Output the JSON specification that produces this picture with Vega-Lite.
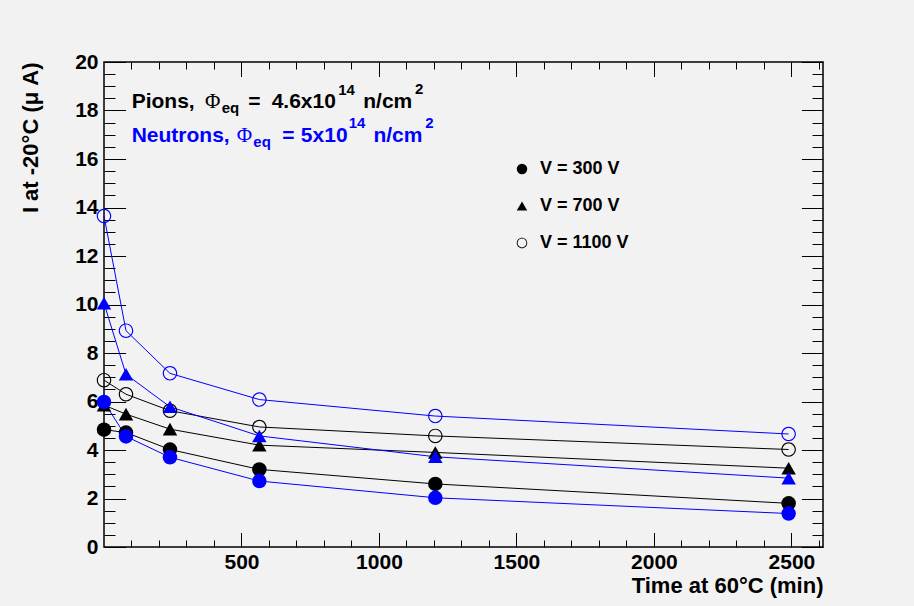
{
  "$schema": "https://vega.github.io/schema/vega-lite/v6.json",
  "width": 719,
  "height": 485,
  "autosize": "none",
  "padding": {"left": 104, "top": 62, "right": 91, "bottom": 59},
  "background": "#f2f2f2",
  "config": {
    "view": {"stroke": "black", "strokeWidth": 1.5},
    "font": "Liberation Sans",
    "axis": {"grid": false, "domain": false, "tickColor": "black", "tickWidth": 1, "labelFlush": false, "labelColor": "black", "titleColor": "black"}
  },
  "datasets": {
    "pts": [
      {"t": 0, "I": 4.84, "src": "Pions", "V": "300"},
      {"t": 80, "I": 4.72, "src": "Pions", "V": "300"},
      {"t": 240, "I": 4.02, "src": "Pions", "V": "300"},
      {"t": 565, "I": 3.2, "src": "Pions", "V": "300"},
      {"t": 1205, "I": 2.6, "src": "Pions", "V": "300"},
      {"t": 2490, "I": 1.8, "src": "Pions", "V": "300"},
      {"t": 0, "I": 5.85, "src": "Pions", "V": "700"},
      {"t": 80, "I": 5.48, "src": "Pions", "V": "700"},
      {"t": 240, "I": 4.86, "src": "Pions", "V": "700"},
      {"t": 565, "I": 4.2, "src": "Pions", "V": "700"},
      {"t": 1205, "I": 3.9, "src": "Pions", "V": "700"},
      {"t": 2490, "I": 3.25, "src": "Pions", "V": "700"},
      {"t": 0, "I": 6.88, "src": "Pions", "V": "1100"},
      {"t": 80, "I": 6.3, "src": "Pions", "V": "1100"},
      {"t": 240, "I": 5.62, "src": "Pions", "V": "1100"},
      {"t": 565, "I": 4.95, "src": "Pions", "V": "1100"},
      {"t": 1205, "I": 4.58, "src": "Pions", "V": "1100"},
      {"t": 2490, "I": 4.02, "src": "Pions", "V": "1100"},
      {"t": 0, "I": 5.98, "src": "Neutrons", "V": "300"},
      {"t": 80, "I": 4.56, "src": "Neutrons", "V": "300"},
      {"t": 240, "I": 3.7, "src": "Neutrons", "V": "300"},
      {"t": 565, "I": 2.72, "src": "Neutrons", "V": "300"},
      {"t": 1205, "I": 2.03, "src": "Neutrons", "V": "300"},
      {"t": 2490, "I": 1.38, "src": "Neutrons", "V": "300"},
      {"t": 0, "I": 10.05, "src": "Neutrons", "V": "700"},
      {"t": 80, "I": 7.12, "src": "Neutrons", "V": "700"},
      {"t": 240, "I": 5.78, "src": "Neutrons", "V": "700"},
      {"t": 565, "I": 4.58, "src": "Neutrons", "V": "700"},
      {"t": 1205, "I": 3.72, "src": "Neutrons", "V": "700"},
      {"t": 2490, "I": 2.84, "src": "Neutrons", "V": "700"},
      {"t": 0, "I": 13.65, "src": "Neutrons", "V": "1100"},
      {"t": 80, "I": 8.92, "src": "Neutrons", "V": "1100"},
      {"t": 240, "I": 7.16, "src": "Neutrons", "V": "1100"},
      {"t": 565, "I": 6.08, "src": "Neutrons", "V": "1100"},
      {"t": 1205, "I": 5.4, "src": "Neutrons", "V": "1100"},
      {"t": 2490, "I": 4.66, "src": "Neutrons", "V": "1100"}
    ],
    "ann": [
      {"part": "main", "txt": "Pions,", "t": 100.7, "I": 18.09, "src": "Pions"},
      {"part": "phi", "txt": "Φ", "t": 367.3, "I": 18.09, "src": "Pions"},
      {"part": "sub", "txt": "eq", "t": 428, "I": 17.88, "src": "Pions"},
      {"part": "main", "txt": "=", "t": 524.7, "I": 18.09, "src": "Pions"},
      {"part": "main", "txt": "4.6x10", "t": 609.8, "I": 18.09, "src": "Pions"},
      {"part": "sup", "txt": "14", "t": 852, "I": 18.64, "src": "Pions"},
      {"part": "main", "txt": "n/cm", "t": 943, "I": 18.09, "src": "Pions"},
      {"part": "sup", "txt": "2", "t": 1131, "I": 18.68, "src": "Pions"},
      {"part": "main", "txt": "Neutrons,", "t": 100.7, "I": 16.71, "src": "Neutrons"},
      {"part": "phi", "txt": "Φ", "t": 482.5, "I": 16.71, "src": "Neutrons"},
      {"part": "sub", "txt": "eq", "t": 543, "I": 16.49, "src": "Neutrons"},
      {"part": "main", "txt": "=", "t": 648, "I": 16.71, "src": "Neutrons"},
      {"part": "main", "txt": "5x10", "t": 716, "I": 16.71, "src": "Neutrons"},
      {"part": "sup", "txt": "14", "t": 890, "I": 17.26, "src": "Neutrons"},
      {"part": "main", "txt": "n/cm", "t": 980, "I": 16.71, "src": "Neutrons"},
      {"part": "sup", "txt": "2", "t": 1168, "I": 17.28, "src": "Neutrons"}
    ]
  },
  "layer": [
    {
      "data": {"name": "pts"},
      "mark": {"type": "line", "strokeWidth": 1},
      "encoding": {
        "x": {"field": "t", "type": "quantitative", "scale": {"domain": [0, 2615], "nice": false, "zero": false},
          "axis": {"orient": "bottom", "values": [500, 1000, 1500, 2000, 2500], "format": "d", "tickSize": -14.5, "labelPadding": 19,
            "labelFont": "Liberation Sans", "labelFontWeight": "bold", "labelFontSize": 21,
            "title": "Time at 60°C (min)", "titleFont": "Liberation Sans", "titleFontWeight": "bold", "titleFontSize": 22,
            "titleAnchor": "end", "titleAlign": "right", "titleX": 719, "titleY": 45, "titleBaseline": "alphabetic"}},
        "y": {"field": "I", "type": "quantitative", "scale": {"domain": [0, 20], "nice": false},
          "axis": {"orient": "left", "values": [0, 2, 4, 6, 8, 10, 12, 14, 16, 18, 20], "tickSize": -21.6, "labelPadding": 27.6,
            "labelFont": "Liberation Sans", "labelFontWeight": "bold", "labelFontSize": 21,
            "title": "I at -20°C (μ A)", "titleFont": "Liberation Sans", "titleFontWeight": "bold", "titleFontSize": 22,
            "titleAnchor": "end", "titleAlign": "right", "titleAngle": -90, "titleX": -74, "titleY": 0, "titleBaseline": "middle"}},
        "color": {"field": "src", "type": "nominal", "scale": {"domain": ["Pions", "Neutrons"], "range": ["#000000", "#0000ff"]}, "legend": null},
        "detail": {"field": "V", "type": "nominal"}
      }
    },
    {
      "data": {"name": "pts"},
      "mark": {"type": "point", "opacity": 0},
      "encoding": {
        "x": {"field": "t", "type": "quantitative",
          "axis": {"orient": "bottom", "values": [100, 200, 300, 400, 600, 700, 800, 900, 1100, 1200, 1300, 1400, 1600, 1700, 1800, 1900, 2100, 2200, 2300, 2400, 2600], "tickSize": -7, "labels": false, "title": null}},
        "y": {"field": "I", "type": "quantitative",
          "axis": {"orient": "left", "values": [0.5, 1, 1.5, 2.5, 3, 3.5, 4.5, 5, 5.5, 6.5, 7, 7.5, 8.5, 9, 9.5, 10.5, 11, 11.5, 12.5, 13, 13.5, 14.5, 15, 15.5, 16.5, 17, 17.5, 18.5, 19, 19.5], "tickSize": -11, "labels": false, "title": null}}
      }
    },
    {
      "data": {"name": "pts"},
      "mark": {"type": "point", "opacity": 0},
      "encoding": {
        "x": {"field": "t", "type": "quantitative",
          "axis": {"orient": "top", "values": [500, 1000, 1500, 2000, 2500], "tickSize": -14.5, "labels": false, "title": null}},
        "y": {"field": "I", "type": "quantitative",
          "axis": {"orient": "right", "values": [0, 2, 4, 6, 8, 10, 12, 14, 16, 18, 20], "tickSize": -21.6, "labels": false, "title": null}}
      }
    },
    {
      "data": {"name": "pts"},
      "mark": {"type": "point", "opacity": 0},
      "encoding": {
        "x": {"field": "t", "type": "quantitative",
          "axis": {"orient": "top", "values": [100, 200, 300, 400, 600, 700, 800, 900, 1100, 1200, 1300, 1400, 1600, 1700, 1800, 1900, 2100, 2200, 2300, 2400, 2600], "tickSize": -7, "labels": false, "title": null}},
        "y": {"field": "I", "type": "quantitative",
          "axis": {"orient": "right", "values": [0.5, 1, 1.5, 2.5, 3, 3.5, 4.5, 5, 5.5, 6.5, 7, 7.5, 8.5, 9, 9.5, 10.5, 11, 11.5, 12.5, 13, 13.5, 14.5, 15, 15.5, 16.5, 17, 17.5, 18.5, 19, 19.5], "tickSize": -11, "labels": false, "title": null}}
      }
    },
    {
      "data": {"name": "pts"},
      "mark": {"type": "point", "filled": true, "opacity": 1, "size": 210, "color": "black"},
      "encoding": {
        "x": {"field": "t", "type": "quantitative", "axis": null},
        "y": {"field": "I", "type": "quantitative", "axis": null},
        "color": {"field": "src", "type": "nominal", "legend": null},
        "shape": {"field": "V", "type": "nominal",
          "scale": {"domain": ["300", "700", "1100"], "range": ["circle", "triangle-up", "M-1,0A1,1 0 1,0 1,0A1,1 0 1,0 -1,0ZM-0.84,0A0.84,0.84 0 1,1 0.84,0A0.84,0.84 0 1,1 -0.84,0Z"]},
          "legend": {"orient": "none", "legendX": 409, "legendY": 98, "title": null, "padding": 0,
            "labelExpr": "'V = ' + datum.label + ' V'", "labelFont": "Liberation Sans", "labelFontWeight": "bold", "labelFontSize": 18, "labelColor": "black",
            "symbolSize": 110, "symbolFillColor": "black", "symbolStrokeWidth": 0, "symbolOpacity": 1, "rowPadding": 19, "labelOffset": 9}}
      }
    },
    {
      "data": {"name": "ann"},
      "transform": [{"filter": "datum.part === 'main'"}],
      "mark": {"type": "text", "align": "left", "baseline": "alphabetic", "font": "Liberation Sans", "fontWeight": "bold", "fontSize": 21},
      "encoding": {
        "x": {"field": "t", "type": "quantitative", "axis": null},
        "y": {"field": "I", "type": "quantitative", "axis": null},
        "text": {"field": "txt"},
        "color": {"field": "src", "type": "nominal", "legend": null}
      }
    },
    {
      "data": {"name": "ann"},
      "transform": [{"filter": "datum.part === 'phi'"}],
      "mark": {"type": "text", "align": "left", "baseline": "alphabetic", "font": "Liberation Serif", "fontWeight": "normal", "fontSize": 21},
      "encoding": {
        "x": {"field": "t", "type": "quantitative", "axis": null},
        "y": {"field": "I", "type": "quantitative", "axis": null},
        "text": {"field": "txt"},
        "color": {"field": "src", "type": "nominal", "legend": null}
      }
    },
    {
      "data": {"name": "ann"},
      "transform": [{"filter": "datum.part === 'sub' || datum.part === 'sup'"}],
      "mark": {"type": "text", "align": "left", "baseline": "alphabetic", "font": "Liberation Sans", "fontWeight": "bold", "fontSize": 15},
      "encoding": {
        "x": {"field": "t", "type": "quantitative", "axis": null},
        "y": {"field": "I", "type": "quantitative", "axis": null},
        "text": {"field": "txt"},
        "color": {"field": "src", "type": "nominal", "legend": null}
      }
    }
  ],
  "resolve": {"axis": {"x": "independent", "y": "independent"}}
}
